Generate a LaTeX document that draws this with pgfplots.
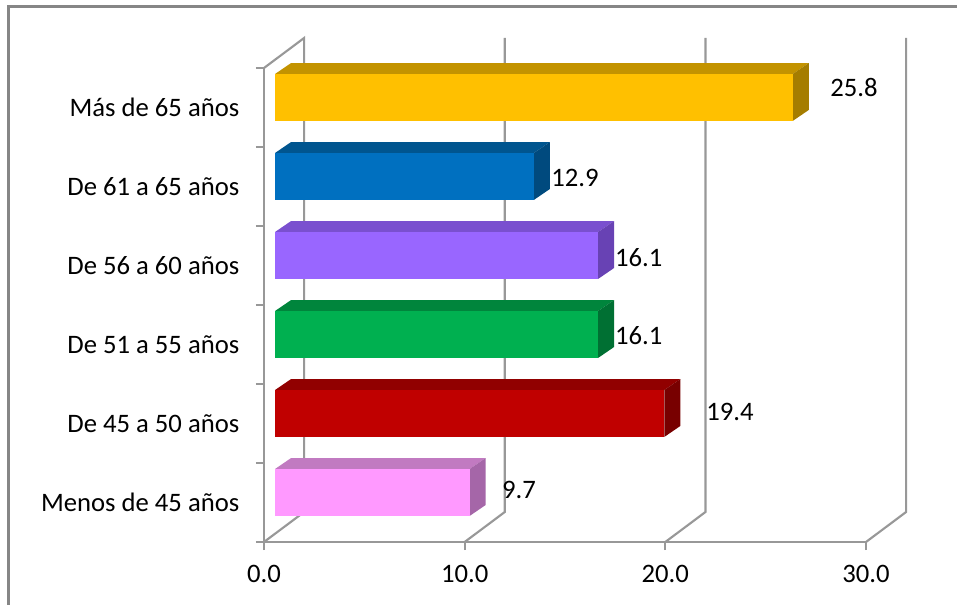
\documentclass[border=0pt]{standalone}
\usepackage{pgfplots}
\pgfplotsset{compat=1.18}
\usepackage{fontspec}
\setmainfont{Carlito}
\definecolor{wall}{HTML}{989898}
\definecolor{framec}{HTML}{868686}
\definecolor{yF}{HTML}{FFC000}\definecolor{yT}{HTML}{C39300}\definecolor{yS}{HTML}{A57D00}
\definecolor{bF}{HTML}{0070C0}\definecolor{bT}{HTML}{00558F}\definecolor{bS}{HTML}{004A7E}
\definecolor{pF}{HTML}{9966FF}\definecolor{pT}{HTML}{7A50CF}\definecolor{pS}{HTML}{6842B4}
\definecolor{gF}{HTML}{00B050}\definecolor{gT}{HTML}{00853C}\definecolor{gS}{HTML}{007033}
\definecolor{rF}{HTML}{C00000}\definecolor{rT}{HTML}{910000}\definecolor{rS}{HTML}{780000}
\definecolor{kF}{HTML}{FF99FF}\definecolor{kT}{HTML}{C17AC1}\definecolor{kS}{HTML}{A566A8}
% #1 value, #2 category, #3 front, #4 top, #5 side
\newcommand{\barfaces}[5]{%
 \addplot[fill=#4, draw=none, forget plot] table[row sep=\\, x expr={\thisrow{a}+#1*\thisrow{b}}, y expr={#2+\thisrow{c}}] {a b c\\ 0.55 0 0.424\\ 0.55 1 0.424\\ 1.35 1 0.563\\ 1.35 0 0.563\\};
 \addplot[fill=#5, draw=none, forget plot] table[row sep=\\, x expr={\thisrow{a}+#1*\thisrow{b}}, y expr={#2+\thisrow{c}}] {a b c\\ 0.55 1 -0.170\\ 1.35 1 -0.031\\ 1.35 1 0.563\\ 0.55 1 0.424\\};
 \addplot[fill=#3, draw=none, forget plot] table[row sep=\\, x expr={\thisrow{a}+#1*\thisrow{b}}, y expr={#2+\thisrow{c}}] {a b c\\ 0.55 0 -0.170\\ 0.55 1 -0.170\\ 0.55 1 0.424\\ 0.55 0 0.424\\};
}
\begin{document}
\begin{tikzpicture}
\useasboundingbox (-198pt,-46.5pt) rectangle (519.75pt,406.5pt);
\draw[framec, line width=1.6pt] (-191.6pt,-50pt) -- (-191.6pt,401.6pt) -- (525pt,401.6pt);
\begin{axis}[
  at={(0,0)}, anchor=south west,
  scale only axis, width=451.5pt, height=355.5pt,
  xmin=0, xmax=30, ymin=-0.5, ymax=5.5,
  clip=false,
  axis x line*=bottom, axis y line*=left,
  axis line style={wall, line width=1.6pt, -},
  tick align=outside, major tick length=6pt,
  tick style={wall, line width=1.6pt},
  xtick={0,10,20,30},
  ytick={-0.5,0.5,1.5,2.5,3.5,4.5,5.5}, yticklabels={},
  extra y ticks={0,1,2,3,4,5},
  extra y tick labels={Menos de 45 años, De 45 a 50 años, De 51 a 55 años, De 56 a 60 años, De 61 a 65 años, Más de 65 años},
  extra y tick style={major tick length=0pt, yticklabel style={xshift=-15pt}},
  /pgf/number format/assume math mode=true,
  xticklabel style={yshift=-7.5pt, /pgf/number format/.cd, fixed, fixed zerofill, precision=1},
  tick label style={font=\fontsize{20pt}{24pt}\selectfont},
]
% back walls
\addplot[wall, line width=1.6pt, forget plot] coordinates {(0,5.5) (2,5.88) (2,-0.12) (0,-0.5)};
\addplot[wall, line width=1.6pt, forget plot] coordinates {(10,-0.5) (12,-0.12) (12,5.88)};
\addplot[wall, line width=1.6pt, forget plot] coordinates {(20,-0.5) (22,-0.12) (22,5.88)};
\addplot[wall, line width=1.6pt, forget plot] coordinates {(30,-0.5) (32,-0.12) (32,5.88)};
% bars
\barfaces{9.7}{0}{kF}{kT}{kS}
\barfaces{19.4}{1}{rF}{rT}{rS}
\barfaces{16.1}{2}{gF}{gT}{gS}
\barfaces{16.1}{3}{pF}{pT}{pS}
\barfaces{12.9}{4}{bF}{bT}{bS}
\barfaces{25.8}{5}{yF}{yT}{yS}
% value labels
\begin{scope}[every node/.style={font=\fontsize{20pt}{24pt}\selectfont, inner sep=0pt}]
\node at (axis cs:12.71,0.158) {9.7};
\node at (axis cs:23.22,1.146) {19.4};
\node at (axis cs:18.68,2.108) {16.1};
\node at (axis cs:18.68,3.095) {16.1};
\node at (axis cs:15.50,4.108) {12.9};
\node at (axis cs:29.40,5.247) {25.8};
\end{scope}
\end{axis}
\end{tikzpicture}
\end{document}
